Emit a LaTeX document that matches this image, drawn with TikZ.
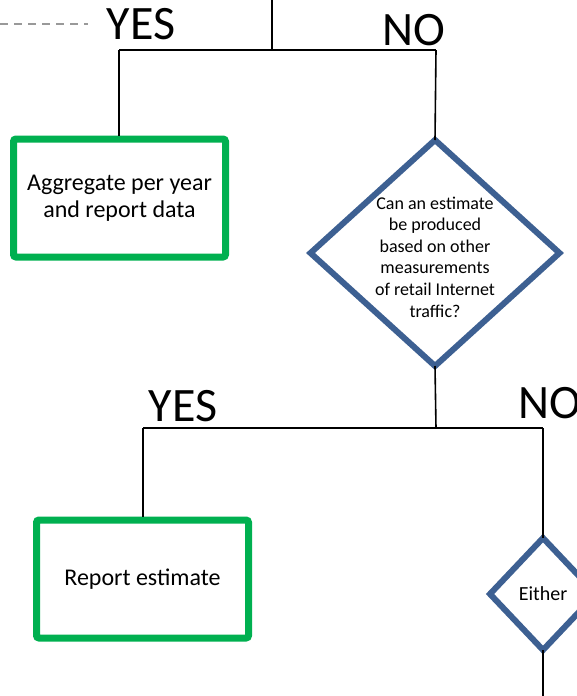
\documentclass[tikz,border=0pt]{standalone}
\usepackage{fontspec}
\setmainfont{Carlito}
\usetikzlibrary{shapes.geometric}
\definecolor{boxgreen}{HTML}{00B050}
\definecolor{dblue}{HTML}{3D6092}
\definecolor{dashgray}{HTML}{999999}
\begin{document}
\begin{tikzpicture}[x=1pt,y=-1pt,
  greenbox/.style={draw=boxgreen,line width=7pt,rounded corners=2.5pt,fill=white,
    minimum width=212pt,minimum height=118pt,align=center,font=\fontsize{24}{27}\selectfont,inner sep=0pt},
  decision/.style={draw=dblue,line width=6pt,diamond,fill=white,inner sep=0pt,outer sep=0pt},
  conn/.style={draw=black,line width=1.6pt},
  bigtext/.style={anchor=base,font=\fontsize{48}{52}\selectfont,inner sep=0pt},
  qtext/.style={align=center,inner sep=0pt},
]
\useasboundingbox (0,0) rectangle (577,696);
\begin{scope}
\clip (0,0) rectangle (577,696);
% dashed line
\coordinate (dl) at (0,24);
\coordinate (dr) at (88,24);
\draw[dashgray,line width=1.3pt,dash pattern=on 8pt off 6pt] (dl) -- (dr);

% nodes
\node[greenbox] (agg) at (119.5,198) {Aggregate per year\\and report data};
\node[decision,minimum width=249pt,minimum height=226pt] (q1) at (435,253) {};
\node[qtext,font=\fontsize{18}{21.6}\selectfont] (q1t) at (435,257) {Can an estimate\\be produced\\based on other\\measurements\\of retail Internet\\traffic?};
\node[greenbox] (rep) at (142.5,579) {Report estimate};
\node[decision,minimum width=106pt,minimum height=112pt] (q2) at (543,594) {};
\node[font=\fontsize{20}{22}\selectfont,inner sep=0pt] (q2t) at (543,594) {Either};

% coordinates
\coordinate (top) at (272,0);
\coordinate (j1) at (272,50);
\coordinate (j1l) at (119,50);
\coordinate (j1r) at (436,50);
\coordinate (j2) at (436,428);
\coordinate (j2l) at (143,428);
\coordinate (j2r) at (543,428);
\coordinate (bot) at (543,696);

% connectors
\draw[conn] (top) -- (j1);
\draw[conn] (j1l) -- (j1r);
\draw[conn] (j1l) -- (agg.north -| j1l);
\draw[conn] (j1r) -- (q1.north);
\draw[conn] (q1.south) -- (j2);
\draw[conn] (j2l) -- (j2r);
\draw[conn] (j2l) -- (rep.north -| j2l);
\draw[conn] (j2r) -- (q2.north);
\draw[conn] (q2.south) -- (bot);

% labels
\node[bigtext] (yes1) at (141,39) {YES};
\node[bigtext] (no1) at (414,45) {NO};
\node[bigtext] (yes2) at (183,421) {YES};
\node[bigtext,anchor=base west] (no2) at (518,418) {NO};
\end{scope}
\end{tikzpicture}
\end{document}
